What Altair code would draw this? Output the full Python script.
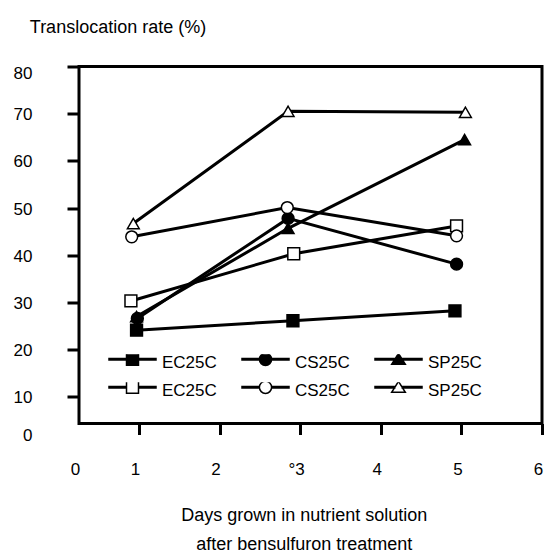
import altair as alt
import pandas as pd

# ---- data ----
series_keys = ["EC25C|f", "CS25C|f", "SP25C|f", "EC25C|o", "CS25C|o", "SP25C|o"]
days = {
    "EC25C|f": [0.97, 2.91, 4.92],
    "CS25C|f": [0.98, 2.85, 4.94],
    "SP25C|f": [0.97, 2.85, 5.04],
    "EC25C|o": [0.90, 2.92, 4.94],
    "CS25C|o": [0.91, 2.84, 4.94],
    "SP25C|o": [0.93, 2.85, 5.05],
}
rates = {
    "EC25C|f": [24.1, 26.1, 28.2],
    "CS25C|f": [26.6, 47.8, 38.1],
    "SP25C|f": [27.0, 45.7, 64.5],
    "EC25C|o": [30.3, 40.3, 46.2],
    "CS25C|o": [43.9, 50.1, 44.1],
    "SP25C|o": [46.7, 70.5, 70.3],
}
x_ticks = [0.256, 1, 2, 3, 4, 5, 6]
y_ticks = [4.32, 10, 20, 30, 40, 50, 60, 70, 80]

rows = []
for k in series_keys:
    for d, v in zip(days[k], rates[k]):
        rows.append({"series": k, "day": d, "rate": v})
df = pd.DataFrame(rows)

FONT = "Liberation Sans"
plot_shapes = ["square", "circle", "triangle-up", "square", "circle", "triangle-up"]
fills = ["black", "black", "black", "white", "white", "white"]
strokes = ["black"] * 6

# legend symbols: line segment + marker (unit box, shifted up slightly so labels sit lower)
m, r, c = 0.255, 0.26, -0.17
a, b = c - 0.032, c + 0.032
sq = (f"M-1,{a}H-{m}V{b}H-1Z M{m},{a}H1V{b}H{m}Z "
      f"M-{m},{c - m}H{m}V{c + m}H-{m}Z")
ci = (f"M-1,{a}H-{r}V{b}H-1Z M{r},{a}H1V{b}H{r}Z "
      f"M-{r},{c}A{r},{r} 0 1,0 {r},{c}A{r},{r} 0 1,0 -{r},{c}Z")
tr = (f"M-1,{a}H-0.16V{b}H-1Z M0.16,{a}H1V{b}H0.16Z "
      f"M0,{c - 0.25}L0.29,{c + 0.21}H-0.29Z")
legend_shapes = [sq, ci, tr, sq, ci, tr]

x_scale = alt.Scale(domain=[0.256, 6], nice=False, zero=False)
y_scale = alt.Scale(domain=[4.32, 80], nice=False, zero=False)

x_axis = alt.Axis(
    values=x_ticks,
    labelExpr="datum.value < 0.5 ? '0' : (datum.value == 3 ? '°3' : format(datum.value, 'd'))",
    domain=False, grid=False,
    tickSize=11, tickWidth=3, tickColor="black",
    tickOpacity={"condition": {"test": "datum.value < 0.5", "value": 0}, "value": 1},
    labelFont=FONT, labelFontSize=17, labelColor="black",
    labelPadding=26.5, labelOffset=-4, labelFlush=False, labelOverlap=False,
    title=["Days grown in nutrient solution", "after bensulfuron treatment"],
    titleFont=FONT, titleFontSize=18, titleFontWeight="normal", titleColor="black",
    titleX=224.7, titleY=97, titleAlign="center", titleBaseline="alphabetic",
    titleLineHeight=29,
)
y_axis = alt.Axis(
    values=y_ticks,
    labelExpr="datum.value < 5 ? '0' : format(datum.value, 'd')",
    domain=False, grid=False,
    tickSize=12, tickWidth=3, tickColor="black",
    tickOpacity={"condition": {"test": "datum.value < 5", "value": 0}, "value": 1},
    labelFont=FONT, labelFontSize=17, labelColor="black",
    labelPadding=35, labelFlush=False, labelOverlap=False,
    labelOffset={"condition": [{"test": "datum.value < 5", "value": 12},
                               {"test": "datum.value > 75", "value": 7}], "value": 1},
    title="Translocation rate (%)",
    titleFont=FONT, titleFontSize=18, titleFontWeight="normal", titleColor="black",
    titleAngle=0, titleX=-49.7, titleY=-39, titleAlign="left", titleBaseline="middle",
)

base = alt.Chart(df)

lines = base.mark_line(color="black", strokeWidth=3).encode(
    x=alt.X("day:Q", scale=x_scale, axis=x_axis),
    y=alt.Y("rate:Q", scale=y_scale, axis=y_axis),
    detail="series:N",
)

points = base.mark_point(filled=True, stroke="black", strokeWidth=1.5, size=140, opacity=1).encode(
    x=alt.X("day:Q", scale=x_scale),
    y=alt.Y("rate:Q", scale=y_scale),
    shape=alt.Shape("series:N", scale=alt.Scale(domain=series_keys, range=plot_shapes), legend=None),
    fill=alt.Fill("series:N", scale=alt.Scale(domain=series_keys, range=fills), legend=None),
)

leg = alt.Legend(
    title=None, orient="none", direction="horizontal", legendX=29, legendY=287.8, columns=3,
    columnPadding=24, rowPadding=10, clipHeight=18, padding=0,
    symbolSize=2209, symbolStrokeWidth=1.5, symbolStrokeColor="black", symbolOffset=0,
    labelFont=FONT, labelFontSize=17, labelColor="black", labelOffset=5,
    labelExpr="split(datum.label, '|')[0]",
)

legend_layer = base.transform_filter("false").mark_point(
    filled=True, strokeWidth=1.5, opacity=1
).encode(
    x=alt.X("day:Q", scale=x_scale),
    y=alt.Y("rate:Q", scale=y_scale),
    shape=alt.Shape("series:N", scale=alt.Scale(domain=series_keys, range=legend_shapes), legend=leg),
    fill=alt.Fill("series:N", scale=alt.Scale(domain=series_keys, range=fills), legend=leg),
    stroke=alt.Stroke("series:N", scale=alt.Scale(domain=series_keys, range=strokes), legend=leg),
)

chart = alt.layer(lines, points, legend_layer).resolve_scale(
    shape="independent", fill="independent", stroke="independent"
).properties(
    width=463, height=357,
    autosize=alt.AutoSizeParams(type="none"),
    padding={"left": 79, "top": 66.5, "right": 2, "bottom": 130.5},
    background="white",
).configure_view(stroke="black", strokeWidth=3)

chart.save("out.html", embed_options={"renderer": "svg", "actions": False})
